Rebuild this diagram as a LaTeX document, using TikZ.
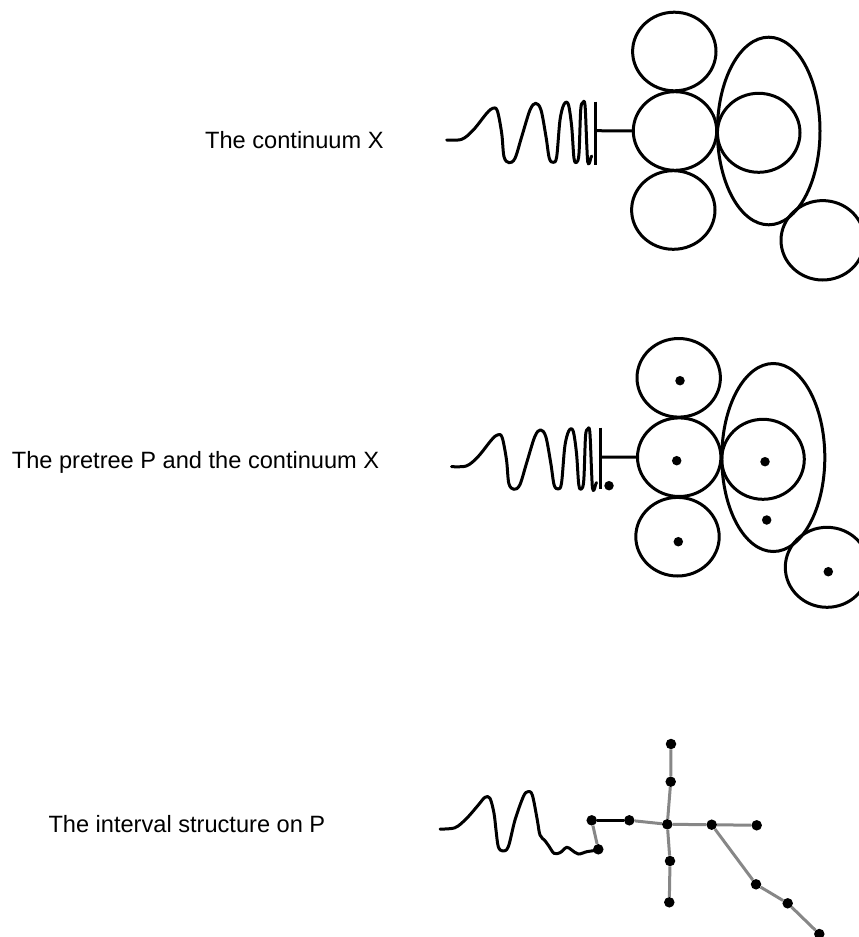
\documentclass[tikz,border=0pt]{standalone}
\usepackage{fontspec}
\setmainfont{Liberation Sans}
\usetikzlibrary{shapes.geometric}
\newcommand{\wavecurve}{%
\draw[curve] plot[smooth,tension=0.55] coordinates {
(446.7,140) (461.7,139.3) (473.3,130) (486.7,113.3) (492.7,108.3) (497.3,110.7)
(501.7,133.3) (504,156.7) (509,162.7) (515,158.3) (521.7,136.7) (530,110)
(535.7,103.3) (541,110) (546,136.7) (549.3,158.3) (553.3,162.3) (556.7,156.7)
(560,120) (564,104.3) (568.3,104.3) (571.7,126.7) (574,158.3) (576.7,162.3)
(579,153.3) (580.7,110) (582.7,102.7) (585,105) (586.7,143.3) (587.7,161.7)
(589.3,163.3) (590.7,158.3) (591.7,156)};}
\begin{document}
\begin{tikzpicture}[x=1pt,y=-1pt,
  curve/.style={line width=3pt, line join=round, line cap=round},
  ring/.style={draw, ellipse, line width=3pt, inner sep=0pt, outer sep=0pt, minimum width=83.4pt, minimum height=78.6pt},
  bigring/.style={draw, ellipse, line width=3pt, inner sep=0pt, outer sep=0pt, minimum width=103pt, minimum height=188pt},
  bar/.style={line width=3pt},
  dotmark/.style={circle, fill=black, inner sep=0pt, minimum size=9.5pt},
  gnode/.style={circle, fill=black, inner sep=0pt, minimum size=10.5pt},
  gedge/.style={line width=3pt, draw=black!47},
  bedge/.style={line width=3pt, draw=black},
  caption/.style={anchor=base west, inner sep=0pt, font=\fontsize{23.6pt}{28pt}\selectfont}
]
\useasboundingbox (0,0) rectangle (859,937);

% captions
\node[caption] (t1) at (205,148.3) {The continuum X};
\node[caption] (t2) at (11.7,468.3) {The pretree P and the continuum X};
\node[caption] (t3) at (48.3,832.3) {The interval structure on P};

% ---------- group 1 ----------
\wavecurve
\coordinate (b1top) at (595.7,101.7);
\coordinate (b1bot) at (595.7,165);
\coordinate (b1mid) at (595.7,130.7);
\draw[bar] (b1top) -- (b1bot);
\node[ring] (a1) at (674.3,51.5) {};
\node[ring] (a2) at (675,131) {};
\node[ring] (a3) at (673.3,210) {};
\node[bigring, minimum width=102.6pt, minimum height=187.6pt] (a4) at (768.7,131) {};
\node[ring, minimum width=82.6pt, minimum height=79pt] (a5) at (758.7,132.8) {};
\node[ring, minimum height=79.4pt] (a6) at (822.7,240.3) {};
\draw[bar] (b1mid) -- (a2.west);

% ---------- group 2 ----------
\begin{scope}[shift={(4.8,326.6)}]
\wavecurve
\end{scope}
\coordinate (b2top) at (600.3,427.7);
\coordinate (b2bot) at (600.3,489.3);
\coordinate (b2mid) at (600.3,457);
\draw[bar] (b2top) -- (b2bot);
\node[ring] (m1) at (678.7,377.8) {};
\node[ring] (m2) at (679.2,457.2) {};
\node[ring] (m3) at (677.5,536.7) {};
\node[bigring] (m4) at (773.3,457.5) {};
\node[ring, minimum width=82.6pt, minimum height=80pt] (m5) at (763,459.3) {};
\node[ring, minimum height=80pt] (m6) at (827,567.3) {};
\draw[bar] (b2mid) -- (m2.west);
\node[dotmark] (p1) at (680,380.7) {};
\node[dotmark] (p2) at (676.7,460.7) {};
\node[dotmark] (p3) at (678.3,541.7) {};
\node[dotmark] (p4) at (765,461.7) {};
\node[dotmark] (p5) at (766.7,520) {};
\node[dotmark] (p6) at (828.3,571.7) {};
\node[dotmark] (p7) at (609,485.7) {};

% ---------- group 3 ----------
\draw[curve] plot[smooth,tension=0.55] coordinates {
(440,829) (455,827.7) (466.7,818.3) (478.3,805) (485,797.3) (490,798.3)
(494,813.3) (496,830) (498.3,846.7) (502.7,851) (508.3,846.7) (515,820)
(523.3,796.7) (527.7,791.7) (532.3,795) (537.3,820) (540,835) (545,840.7)
(549.3,846.7) (554,853.3) (560,852.7) (566.7,847.3) (571.7,850) (578.3,854)
(586.7,851.7) (593.3,850.7) (598.3,849.3)};
\node[gnode] (g1) at (671,744) {};
\node[gnode] (g2) at (670.7,781.7) {};
\node[gnode] (l1) at (591.7,820.3) {};
\node[gnode] (l2) at (629.3,820.3) {};
\node[gnode] (c) at (667.3,824.3) {};
\node[gnode] (r1) at (711.7,824.7) {};
\node[gnode] (r2) at (756.7,825.3) {};
\node[gnode] (d1) at (670,861) {};
\node[gnode] (d2) at (669.3,902.3) {};
\node[gnode] (s1) at (756,884.3) {};
\node[gnode] (s2) at (787.7,903.3) {};
\node[gnode] (s3) at (819.3,934) {};
\node[gnode] (e) at (598.3,849.3) {};
\draw[gedge] (g1) -- (g2);
\draw[gedge] (g2) -- (c);
\draw[gedge] (l2) -- (c);
\draw[gedge] (c) -- (r1);
\draw[gedge] (r1) -- (r2);
\draw[gedge] (c) -- (d1);
\draw[gedge] (d1) -- (d2);
\draw[gedge] (r1) -- (s1);
\draw[gedge] (s1) -- (s2);
\draw[gedge] (s2) -- (s3);
\draw[gedge] (l1) -- (e);
\draw[bedge] (l1) -- (l2);
\end{tikzpicture}
\end{document}
